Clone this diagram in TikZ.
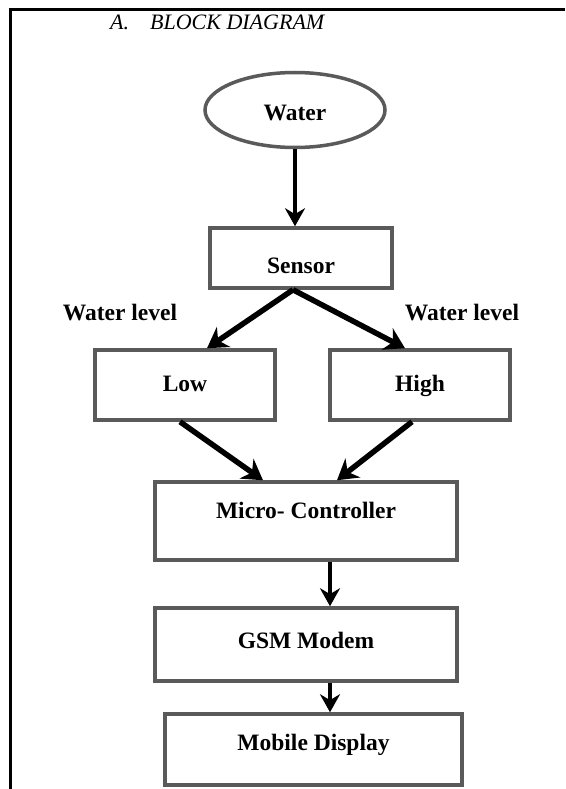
\documentclass[tikz,border=0pt]{standalone}
\usepackage{fontspec}
\setmainfont{Liberation Serif}
\usetikzlibrary{shapes.geometric, arrows.meta}
\definecolor{boxgray}{RGB}{90,90,90}
\tikzset{
  blok/.style = {draw = boxgray, line width = 3.5pt, inner sep = 0pt, text height = 16pt,
                 font = \fontsize{23.5}{28}\selectfont\bfseries},
  lbl/.style = {inner sep = 0pt, font = \fontsize{23.5}{28}\selectfont\bfseries},
  arr/.style = {line width = 5.5pt, -{Stealth[length = 20pt, width = 24pt]}},
  varr/.style = {line width = 3.5pt, -{Stealth[length = 18pt, width = 20pt]}}
}
\begin{document}
\begin{tikzpicture}[x = 1pt, y = -1pt]
\useasboundingbox (0,0) rectangle (565,789);
\draw[line width = 3pt] (10,789) -- (10,10) -- (565,10);
\node[anchor = west, inner sep = 0pt, font = \fontsize{22}{26}\selectfont\itshape] (title) at (110,22) {A.\hspace{21pt}BLOCK DIAGRAM};
\node[blok, ellipse, minimum width = 180pt, minimum height = 75pt, text height = 22pt, text depth = 0pt] (water) at (295,110) {Water};
\node[blok, minimum width = 182pt, minimum height = 60pt, text height = 31.5pt, text depth = 0pt] (sensor) at (301,258) {Sensor};
\node[blok, minimum width = 180pt, minimum height = 70pt, text depth = 4pt] (low) at (185,385) {Low};
\node[blok, minimum width = 180pt, minimum height = 70pt, text depth = 4pt] (high) at (420,385) {High};
\node[lbl] (lvlL) at (120,313) {Water level};
\node[lbl] (lvlR) at (462,313) {Water level};
\node[blok, minimum width = 302pt, minimum height = 78pt, text depth = 22pt] (micro) at (306,521) {Micro- Controller};
\node[blok, minimum width = 302pt, minimum height = 73pt, text depth = 9pt] (gsm) at (306,644.5) {GSM Modem};
\node[blok, minimum width = 297pt, minimum height = 71pt, text depth = 15pt] (mobile) at (313.5,749.5) {Mobile Display};
\draw[varr] (water.south) -- (water.south |- sensor.north);
\draw[arr] ([xshift = -8pt]sensor.south) -- ([xshift = 22pt]low.north);
\draw[arr] ([xshift = -8pt]sensor.south) -- ([xshift = -15pt]high.north);
\draw[arr] ([xshift = -5pt]low.south) -- ([xshift = -43pt]micro.north);
\draw[arr] ([xshift = -8pt]high.south) -- ([xshift = 31pt]micro.north);
\draw[varr] ([xshift = 24pt]micro.south) -- ([xshift = 24pt]gsm.north);
\draw[varr] ([xshift = 24pt]gsm.south) -- ([xshift = 24pt]gsm.south |- mobile.north);
\end{tikzpicture}
\end{document}
